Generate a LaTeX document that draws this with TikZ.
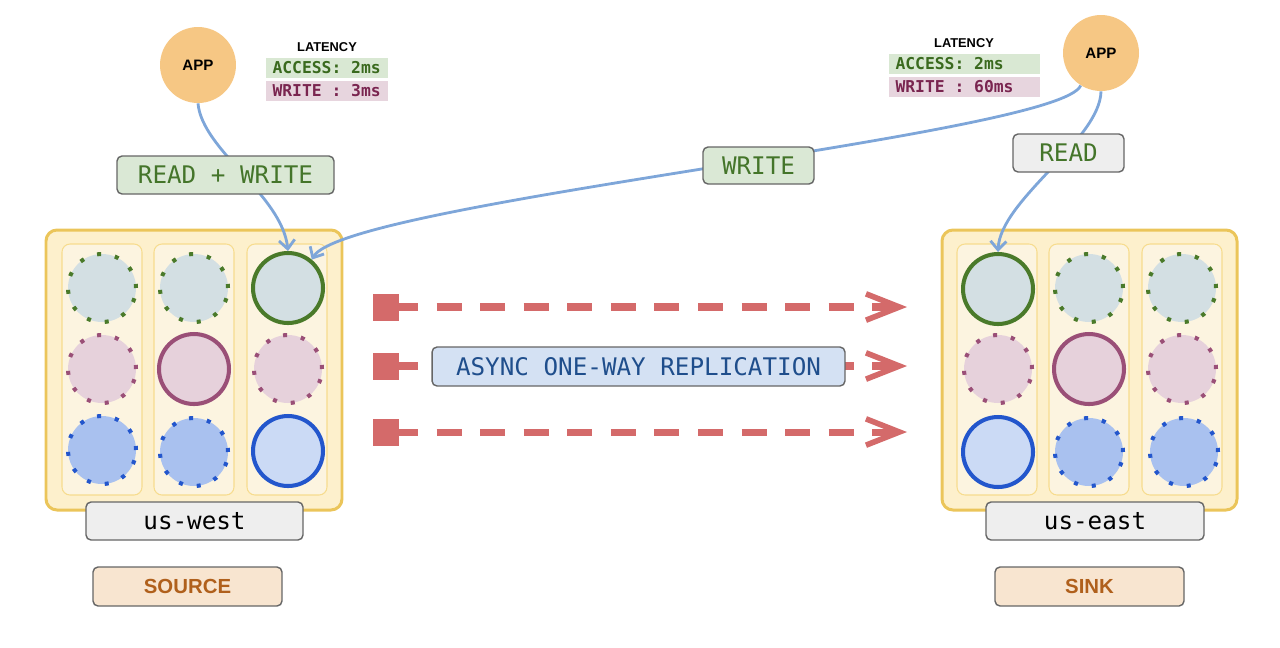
\documentclass[tikz,border=0pt]{standalone}
\usepackage{fontspec}
\setmainfont{Liberation Sans}
\setmonofont{DejaVu Sans Mono}
\usetikzlibrary{arrows.meta}
\definecolor{outerline}{HTML}{EBC55A}
\definecolor{outerfill}{HTML}{FDF0CC}
\definecolor{colline}{HTML}{F7DC8E}
\definecolor{colfill}{HTML}{FCF4E0}
\definecolor{gfill}{HTML}{D3DFE3}
\definecolor{gline}{HTML}{4A7A2A}
\definecolor{pfill}{HTML}{E6D1DB}
\definecolor{pline}{HTML}{9A4F77}
\definecolor{bfill}{HTML}{A9C1EF}
\definecolor{bsfill}{HTML}{CBDAF5}
\definecolor{bline}{HTML}{2356CC}
\definecolor{appfill}{HTML}{F6C784}
\definecolor{connblue}{HTML}{7EA6D9}
\definecolor{repred}{HTML}{D46A6A}
\definecolor{labline}{HTML}{666666}
\definecolor{greenlab}{HTML}{DAE8D5}
\definecolor{greentext}{HTML}{44752A}
\definecolor{greylab}{HTML}{EEEEEE}
\definecolor{asyncfill}{HTML}{D4E1F3}
\definecolor{asynctext}{HTML}{1F4E8C}
\definecolor{srcfill}{HTML}{F8E5D0}
\definecolor{srctext}{HTML}{B0601C}
\definecolor{accfill}{HTML}{D9E8D3}
\definecolor{acctext}{HTML}{3A6A1E}
\definecolor{wrfill}{HTML}{E7D5DE}
\definecolor{wrtext}{HTML}{7A2550}
\newcommand\monolab{\ttfamily\fontsize{13.8}{16}\selectfont}
\newcommand\latmono{\ttfamily\bfseries\fontsize{9.3}{10}\selectfont}
\begin{document}
\begin{tikzpicture}[x=0.02cm,y=-0.02cm,
  outerbox/.style={draw=outerline,fill=outerfill,line width=1.7pt,rounded corners=0.22cm},
  colbox/.style={draw=colline,fill=colfill,line width=0.6pt,rounded corners=0.16cm},
  dotc/.style={circle,minimum size=1.36cm,inner sep=0,line width=2.3pt,dash pattern=on 2.3pt off 8pt},
  solc/.style={circle,minimum size=1.4cm,inner sep=0,line width=2.3pt},
  gdot/.style={dotc,fill=gfill,draw=gline},
  pdot/.style={dotc,fill=pfill,draw=pline},
  bdot/.style={dotc,fill=bfill,draw=bline},
  gsol/.style={solc,fill=gfill,draw=gline},
  psol/.style={solc,fill=pfill,draw=pline},
  bsol/.style={solc,fill=bsfill,draw=bline},
  lab/.style={draw=labline,line width=0.8pt,rounded corners=0.1cm,inner sep=0,font=\monolab},
  app/.style={circle,fill=appfill,minimum size=1.52cm,inner sep=0,font=\bfseries\fontsize{8.6}{10}\selectfont},
  lat/.style={font=\bfseries\fontsize{7.3}{9}\selectfont,inner sep=0},
  latbg/.style={inner sep=0,minimum height=0.4cm},
  lattext/.style={anchor=west,inner sep=0,font=\latmono},
  srcbox/.style={draw=labline,line width=0.8pt,rounded corners=0.1cm,inner sep=0,fill=srcfill,text=srctext,
    minimum width=3.78cm,minimum height=0.78cm,font=\bfseries\fontsize{11.6}{13}\selectfont},
  conn/.style={draw=connblue,line width=1.6pt,-{Straight Barb[length=5pt,width=9pt]}},
  rep/.style={draw=repred,line width=4pt,dash pattern=on 14.2pt off 10.6pt,
    -{Straight Barb[length=19pt,width=15pt,line width=3.2pt]}},
  repsq/.style={fill=repred,minimum width=0.52cm,minimum height=0.54cm,inner sep=0}
]
\useasboundingbox (0,0) rectangle (1280,647);

% ---------- left region ----------
\draw[outerbox] (46,230) rectangle (342,510);
\draw[colbox] (62,244) rectangle (142,495);
\draw[colbox] (154,244) rectangle (234,495);
\draw[colbox] (247,244) rectangle (327,495);
\node[gdot] (L11) at (102,288) {};
\node[gdot] (L21) at (194,288) {};
\node[gsol] (L31) at (288,288) {};
\node[pdot] (L12) at (102,369) {};
\node[psol] (L22) at (194,369) {};
\node[pdot] (L32) at (288,369) {};
\node[bdot] (L13) at (102,450) {};
\node[bdot] (L23) at (194,452) {};
\node[bsol] (L33) at (288,451) {};
\node[lab,fill=greylab,minimum width=4.34cm,minimum height=0.76cm] (usw) at (194.5,521) {us-west};
\node[srcbox] (src) at (187.5,586.5) {SOURCE};

% ---------- right region ----------
\draw[outerbox] (942,230) rectangle (1237,510);
\draw[colbox] (957,244) rectangle (1037,495);
\draw[colbox] (1049,244) rectangle (1129,495);
\draw[colbox] (1142,244) rectangle (1222,495);
\node[gsol] (R11) at (998,289) {};
\node[gdot] (R21) at (1089,288) {};
\node[gdot] (R31) at (1182,288) {};
\node[pdot] (R12) at (998,369) {};
\node[psol] (R22) at (1089,369) {};
\node[pdot] (R32) at (1182,369) {};
\node[bsol] (R13) at (998,452) {};
\node[bdot] (R23) at (1089,452) {};
\node[bdot] (R33) at (1184,452) {};
\node[lab,fill=greylab,minimum width=4.36cm,minimum height=0.76cm] (use) at (1095,521) {us-east};
\node[srcbox] (snk) at (1089.5,586.5) {SINK};

% ---------- apps and latency ----------
\node[app] (appL) at (198,65) {APP};
\node[app] (appR) at (1101,53) {APP};
\node[lat] (latL) at (327,47) {LATENCY};
\node[latbg,fill=accfill,minimum width=2.44cm] (accLb) at (327,68) {};
\node[lattext,text=acctext] (accL) at ([xshift=0.13cm]accLb.west) {ACCESS: 2ms};
\node[latbg,fill=wrfill,minimum width=2.44cm] (wrLb) at (327,91) {};
\node[lattext,text=wrtext] (wrL) at ([xshift=0.13cm]wrLb.west) {WRITE : 3ms};
\node[lat] (latR) at (964,43) {LATENCY};
\node[latbg,fill=accfill,minimum width=3.02cm] (accRb) at (964.5,64) {};
\node[lattext,text=acctext] (accR) at ([xshift=0.13cm]accRb.west) {ACCESS: 2ms};
\node[latbg,fill=wrfill,minimum width=3.02cm] (wrRb) at (964.5,87) {};
\node[lattext,text=wrtext] (wrR) at ([xshift=0.13cm]wrRb.west) {WRITE : 60ms};

% ---------- replication arrows ----------
\coordinate (s1) at (393,307); \coordinate (e1) at (907,307);
\coordinate (s2) at (393,366); \coordinate (e2) at (907,366);
\coordinate (s3) at (393,432); \coordinate (e3) at (907,432);
\draw[rep] (s1) -- (e1);
\draw[rep] (s2) -- (e2);
\draw[rep] (s3) -- (e3);
\node[repsq] (q1) at (386,307) {};
\node[repsq] (q2) at (386,366) {};
\node[repsq] (q3) at (386,432) {};
\node[lab,fill=asyncfill,text=asynctext,minimum width=8.26cm,minimum height=0.78cm] (async) at (638.5,366.5) {ASYNC ONE-WAY REPLICATION};

% ---------- connectors ----------
\draw[conn] (appL.south) .. controls (202,150) and (282,195) .. (L31.north);
\draw[conn] (appR.-122) .. controls (1060,135) and (344,202) .. (L31.50);
\draw[conn] (appR.south) .. controls (1100,140) and (1000,200) .. (R11.north);

\node[lab,fill=greenlab,text=greentext,minimum width=4.34cm,minimum height=0.76cm] (rw) at (225.5,175) {READ + WRITE};
\node[lab,fill=greenlab,text=greentext,minimum width=2.22cm,minimum height=0.74cm] (wlab) at (758.5,165.5) {WRITE};
\node[lab,fill=greylab,text=greentext,minimum width=2.22cm,minimum height=0.76cm] (rlab) at (1068.5,153) {READ};
\end{tikzpicture}
\end{document}
